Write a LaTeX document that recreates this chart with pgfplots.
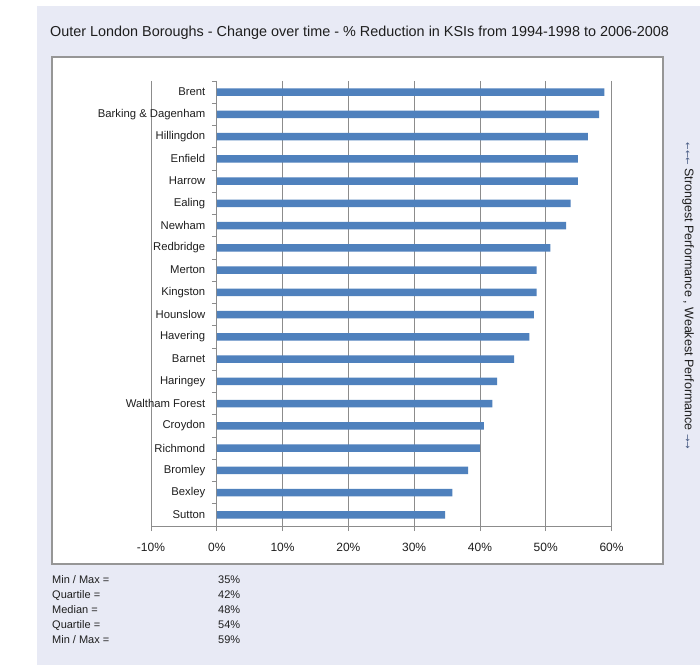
\documentclass[border=0pt]{standalone}
\usepackage{pgfplots}
\pgfplotsset{compat=1.18}
\usepackage{fontspec}
\setmainfont{Liberation Sans}
\newfontfamily\dejavu{DejaVu Sans}
\definecolor{bg}{RGB}{232,234,245}
\definecolor{barblue}{RGB}{79,129,189}
\definecolor{gridgray}{RGB}{140,140,140}
\definecolor{framegray}{RGB}{150,150,150}
\definecolor{txt}{RGB}{30,30,30}
\definecolor{arr}{RGB}{70,90,130}
\begin{document}
\begin{tikzpicture}[x=1bp,y=1bp]
\path[use as bounding box] (0,0) rectangle (700,665);
\fill[bg] (37,0) rectangle (700,659);
\draw[framegray, line width=1.2bp, fill=white] (52,101) rectangle (663,608);
\node[anchor=west, inner sep=0pt, text=txt, font=\fontsize{14.4bp}{16bp}\selectfont] at (50,632)
  {Outer London Boroughs - Change over time - \% Reduction in KSIs from 1994-1998 to 2006-2008};
\begin{axis}[
  at={(151bp,139bp)}, anchor=south west, scale only axis,
  width=460.5bp, height=445bp,
  xbar, bar width=7.5bp,
  xmin=-10, xmax=60, ymin=0.5, ymax=20.5, y dir=reverse,
  axis x line=bottom, axis y line=middle,
  axis line style={gridgray, line width=0.8bp, -},
  every inner y axis line/.append style={-},
  every outer x axis line/.append style={-},
  xtick={-10,0,10,20,30,40,50,60},
  xticklabels={-10\%,0\%,10\%,20\%,30\%,40\%,50\%,60\%},
  minor xtick={-10,0,10,20,30,40,50,60},
  ytick={1,...,20},
  yticklabels={Brent,Barking \& Dagenham,Hillingdon,Enfield,Harrow,Ealing,Newham,Redbridge,Merton,Kingston,Hounslow,Havering,Barnet,Haringey,Waltham Forest,Croydon,Richmond,Bromley,Bexley,Sutton},
  minor ytick={0.5,1.5,...,20.5},
  major tick length=0pt, minor tick length=5bp,
  tick align=outside,
  tick style={gridgray, line width=0.8bp},
  xmajorgrids, grid style={gridgray, line width=0.8bp},
  ticklabel style={text=txt},
  xticklabel style={font=\fontsize{12bp}{14bp}\selectfont, yshift=-14bp},
  yticklabel style={font=\fontsize{11.3bp}{13bp}\selectfont, anchor=east, xshift=-8bp},
  /pgf/number format/assume math mode=true,
]
\addplot[fill=barblue, draw=none] coordinates {
(58.9,1) (58.1,2) (56.4,3) (54.9,4) (54.9,5) (53.8,6) (53.1,7) (50.7,8) (48.6,9) (48.6,10)
(48.2,11) (47.5,12) (45.2,13) (42.6,14) (41.9,15) (40.6,16) (40.0,17) (38.2,18) (35.8,19) (34.7,20)
};
\end{axis}
\node[rotate=-90, text=txt, font=\fontsize{12.5bp}{14bp}\selectfont] at (688,369)
  {{\dejavu\fontsize{9bp}{10bp}\selectfont\color{arr}←←←} Strongest Performance , Weakest Performance {\dejavu\fontsize{9bp}{10bp}\selectfont\color{arr}→→}};
\begin{scope}[every node/.style={anchor=base west, inner sep=0pt, text=txt, font=\fontsize{11bp}{13bp}\selectfont}]
\node at (52,81) {Min / Max =};  \node at (218,81) {35\%};
\node at (52,66) {Quartile =};   \node at (218,66) {42\%};
\node at (52,51) {Median =};     \node at (218,51) {48\%};
\node at (52,36) {Quartile =};   \node at (218,36) {54\%};
\node at (52,21) {Min / Max =};  \node at (218,21) {59\%};
\end{scope}
\end{tikzpicture}
\end{document}
